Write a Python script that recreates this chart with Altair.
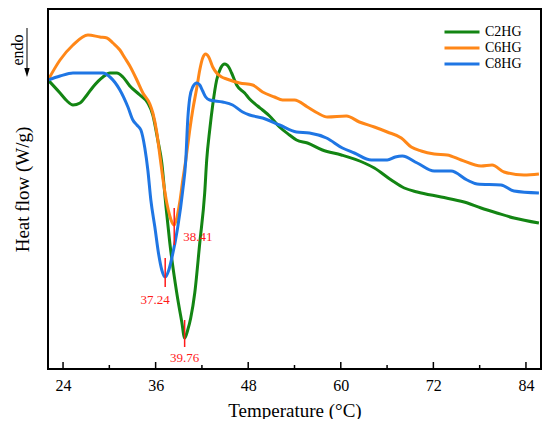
import altair as alt
import pandas as pd

# ---- data (temperature in °C, heat flow in arbitrary W/g units) ----
series = ["C2HG", "C6HG", "C8HG"]
colors = ["#138513", "#ff8718", "#1f76e4"]

temp_c2 = [22.06, 23.61, 24.52, 25.29, 26.20, 27.10, 27.88, 29.17, 30.08, 30.98, 31.76, 32.66,
           33.96, 34.99, 35.64, 36.28, 36.80, 37.32, 37.84, 38.74, 39.39, 39.76, 40.16, 40.55,
           41.07, 41.72, 42.36, 42.62, 43.01, 43.40, 43.91, 44.43, 44.95, 45.47, 45.85, 46.50,
           47.54, 48.18, 49.22, 49.86, 50.77, 52.06, 53.35, 54.26, 55.68, 57.62, 60.08, 63.05,
           64.35, 66.54, 68.23, 69.91, 73.01, 75.98, 78.18, 80.25, 82.45, 85.68]
hf_c2 = [2.89, 2.76, 2.68, 2.64, 2.66, 2.74, 2.82, 2.92, 2.96, 2.96, 2.92, 2.83,
         2.74, 2.66, 2.54, 2.29, 2.06, 1.64, 1.26, 0.76, 0.47, 0.31, 0.39, 0.51,
         0.76, 1.26, 1.76, 2.09, 2.39, 2.64, 2.89, 3.01, 3.05, 3.02, 2.96, 2.84,
         2.76, 2.70, 2.63, 2.59, 2.53, 2.42, 2.34, 2.29, 2.26, 2.19, 2.14, 2.06,
         2.01, 1.89, 1.81, 1.77, 1.72, 1.67, 1.61, 1.56, 1.51, 1.46]

temp_c6 = [22.06, 23.61, 25.29, 27.23, 28.78, 29.69, 30.47, 31.37, 32.02, 32.66, 33.57, 34.35,
           35.25, 35.64, 36.16, 36.54, 37.06, 37.45, 37.84, 38.10, 38.41, 38.74, 39.13, 39.52,
           39.91, 40.42, 40.81, 41.33, 41.72, 42.10, 42.49, 42.88, 43.40, 43.91, 44.56, 45.21,
           46.89, 48.57, 49.86, 51.41, 52.45, 54.00, 55.68, 56.98, 58.27, 60.73, 62.41, 64.35,
           66.03, 67.84, 69.13, 70.42, 72.11, 73.79, 75.60, 78.18, 79.61, 81.16, 83.74, 85.68]
hf_c6 = [2.89, 3.09, 3.24, 3.34, 3.32, 3.31, 3.26, 3.19, 3.11, 3.03, 2.89, 2.76,
         2.65, 2.56, 2.36, 2.14, 1.84, 1.66, 1.53, 1.47, 1.44, 1.51, 1.67, 1.89,
         2.09, 2.39, 2.59, 2.81, 2.99, 3.11, 3.15, 3.12, 3.02, 2.96, 2.92, 2.90,
         2.86, 2.84, 2.77, 2.72, 2.69, 2.69, 2.62, 2.56, 2.52, 2.53, 2.47, 2.42,
         2.37, 2.31, 2.22, 2.18, 2.15, 2.14, 2.09, 2.03, 2.04, 1.97, 1.94, 1.95]

temp_c8 = [22.06, 23.61, 25.29, 27.23, 29.17, 30.08, 31.37, 32.41, 33.05, 33.57, 34.09, 34.60,
           34.99, 35.38, 35.90, 36.41, 36.80, 37.24, 37.71, 38.10, 38.87, 39.52, 39.91, 40.16,
           40.42, 40.81, 41.33, 41.72, 42.10, 42.49, 43.01, 44.69, 45.98, 47.28, 48.18, 49.86,
           52.06, 54.26, 55.94, 58.14, 60.21, 61.76, 63.96, 66.03, 67.06, 67.97, 69.91, 72.11,
           74.30, 76.37, 77.67, 80.77, 82.45, 85.68]
hf_c8 = [2.89, 2.93, 2.96, 2.96, 2.96, 2.92, 2.79, 2.62, 2.49, 2.44, 2.39, 2.21,
         1.99, 1.69, 1.42, 1.14, 0.99, 0.92, 0.99, 1.11, 1.42, 1.79, 2.09, 2.49,
         2.71, 2.82, 2.86, 2.84, 2.78, 2.72, 2.69, 2.67, 2.64, 2.57, 2.54, 2.51,
         2.44, 2.37, 2.36, 2.31, 2.21, 2.16, 2.09, 2.09, 2.12, 2.13, 2.06, 1.98,
         1.98, 1.89, 1.85, 1.84, 1.78, 1.76]

# peak markers: temperature, marker bottom, marker top, label
peak_temp = [39.76, 38.41, 37.24]
peak_low = [0.22, 1.24, 0.82]
peak_high = [0.49, 1.61, 1.11]
peak_text = ["39.76", "38.41", "37.24"]

major_ticks = [24, 36, 48, 60, 72, 84]
minor_ticks = [30, 42, 54, 66, 78]

# axis ranges
t_min, t_max = 22.05, 85.95
hf_min, hf_max = 0.0, 3.6

# ---- tables ----
rows = []
for name, ts, vs in zip(series, [temp_c2, temp_c6, temp_c8], [hf_c2, hf_c6, hf_c8]):
    for t, v in zip(ts, vs):
        rows.append({"sample": name, "T": t, "HF": v})
df = pd.DataFrame(rows)
peaks = pd.DataFrame({"T": peak_temp, "HF": peak_low, "HF2": peak_high, "label": peak_text})
ticks_major = pd.DataFrame({"T": major_ticks, "HF": [hf_min] * len(major_ticks),
                            "HF2": [0.07] * len(major_ticks)})
ticks_minor = pd.DataFrame({"T": minor_ticks, "HF": [hf_min] * len(minor_ticks),
                            "HF2": [0.04] * len(minor_ticks)})
box = pd.DataFrame({"T": [t_min], "T2": [t_max], "HF": [hf_min], "HF2": [hf_max]})

FONT = "Liberation Serif"
W, H = 493, 360
x_scale = alt.Scale(domain=[t_min, t_max], nice=False, zero=False)
y_scale = alt.Scale(domain=[hf_min, hf_max], nice=False, zero=False)

lines = alt.Chart(df).mark_line(strokeWidth=3, interpolate="monotone").encode(
    x=alt.X("T:Q", scale=x_scale,
            axis=alt.Axis(title="Temperature (°C)", values=major_ticks, grid=False, ticks=False,
                          tickSize=0, domain=False, labelFont=FONT, labelFontSize=16,
                          labelColor="black", labelPadding=8, titleFont=FONT, titleFontSize=19,
                          titleFontWeight="normal", titleColor="black",
                          titleBaseline="alphabetic", titleY=47)),
    y=alt.Y("HF:Q", scale=y_scale,
            axis=alt.Axis(title="Heat flow (W/g)", labels=False, ticks=False, tickSize=0,
                          grid=False, domain=False, titleFont=FONT, titleFontSize=19,
                          titleFontWeight="normal", titleColor="black", titlePadding=16)),
    color=alt.Color("sample:N", scale=alt.Scale(domain=series, range=colors),
                    legend=alt.Legend(title=None, orient="none", legendX=395, legendY=15,
                                      symbolType="stroke", symbolSize=1225, symbolStrokeWidth=3,
                                      clipHeight=16, labelFont=FONT, labelFontSize=14,
                                      labelColor="black", labelOffset=4, rowPadding=0,
                                      padding=0)),
)

frame = alt.Chart(box).mark_rect(fill="transparent", stroke="black", strokeWidth=2).encode(
    x=alt.X("T:Q", scale=x_scale), x2="T2:Q",
    y=alt.Y("HF:Q", scale=y_scale), y2="HF2:Q")

major = alt.Chart(ticks_major).mark_rule(color="black", strokeWidth=1.5).encode(
    x=alt.X("T:Q", scale=x_scale), y=alt.Y("HF:Q", scale=y_scale), y2="HF2:Q")
minor = alt.Chart(ticks_minor).mark_rule(color="black", strokeWidth=1.5).encode(
    x=alt.X("T:Q", scale=x_scale), y=alt.Y("HF:Q", scale=y_scale), y2="HF2:Q")

peak_rules = alt.Chart(peaks).mark_rule(color="#ff1a1a", strokeWidth=1.5).encode(
    x=alt.X("T:Q", scale=x_scale), y=alt.Y("HF:Q", scale=y_scale), y2="HF2:Q")

def peak_label(i, dx, dy, align):
    return alt.Chart(peaks.iloc[[i]]).mark_text(
        font=FONT, fontSize=13, color="#ff1a1a", dx=dx, dy=dy, align=align, baseline="middle"
    ).encode(x=alt.X("T:Q", scale=x_scale), y=alt.Y("HF:Q", scale=y_scale), text="label:N")

lab_c2 = peak_label(0, 0, 11, "center")
lab_c6 = peak_label(1, 9, -8, "left")
lab_c8 = peak_label(2, -10, 13, "center")

endo_text = alt.Chart(pd.DataFrame({"t": ["endo"]})).mark_text(
    font=FONT, fontSize=16, angle=270, color="black", baseline="alphabetic", align="center"
).encode(x=alt.value(-25.5), y=alt.value(41), text="t:N")
endo_line = alt.Chart(pd.DataFrame({"t": ["endo"]})).mark_rule(color="black", strokeWidth=1).encode(
    x=alt.value(-21), y=alt.value(19), y2=alt.value(62))
endo_head = alt.Chart(pd.DataFrame({"t": ["endo"]})).mark_point(
    shape="M-0.6,-1L0.6,-1L0,1Z", filled=True, color="black", size=81, opacity=1).encode(
    x=alt.value(-21), y=alt.value(63.5))

chart = alt.layer(lines, peak_rules, lab_c2, lab_c6, lab_c8,
                  endo_text, endo_line, endo_head, major, minor, frame).properties(
    width=W, height=H,
    background="white",
    autosize=alt.AutoSizeParams(type="none"),
    padding={"left": 40, "top": 1, "right": 1, "bottom": 50},
)

chart.save("out.html", embed_options={"renderer": "svg", "actions": False})
